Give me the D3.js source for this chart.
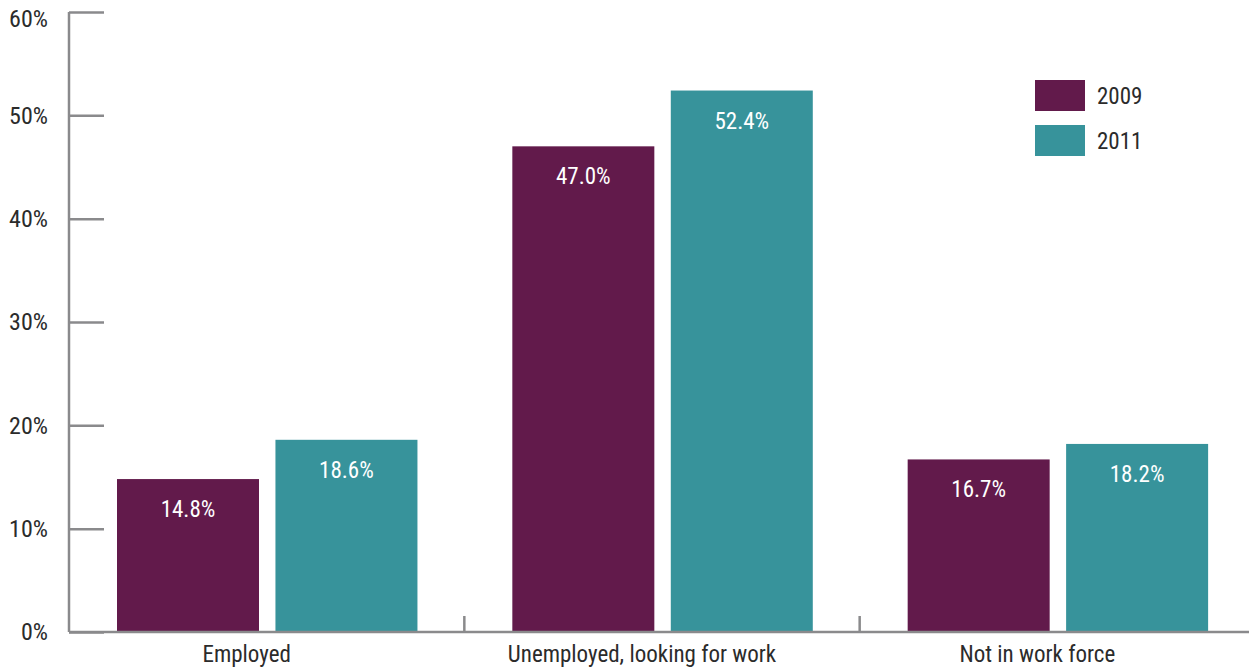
<!DOCTYPE html>
<html>
<head>
<meta charset="utf-8">
<script src="https://cdn.jsdelivr.net/npm/d3@7"></script>
<style>
html,body{margin:0;padding:0;background:#fff;}
svg{display:block;font-family:"Liberation Sans Narrow","Roboto Condensed","Liberation Sans",sans-serif;}
</style>
</head>
<body>
<div id="chart"></div>
<script>
(function(){

const categories = ["Employed","Unemployed, looking for work","Not in work force"];
const years = ["2009","2011"];
const values2009 = [14.8,47.0,16.7];
const values2011 = [18.6,52.4,18.2];
const yTicks = [0,10,20,30,40,50,60];

const width = 1249;
const height = 668;
const margin = {top:12,right:-6,bottom:36,left:69};
const fontStack = "'Liberation Sans Narrow','Roboto Condensed',sans-serif";

const colors = d3.scaleOrdinal().domain(years).range(["#621a4b","#37939b"]);

const data = categories.map((c,i)=>({cat:c,vals:[
{year:"2009",v:values2009[i]},
{year:"2011",v:values2011[i]}
]}));

const svg = d3.select("#chart")
.append("svg")
.attr("width",width)
.attr("height",height);

const x = d3.scaleBand()
.domain(categories)
.range([margin.left,width-margin.right])
.paddingInner(0)
.paddingOuter(0);

const xSub = d3.scaleBand()
.domain(years)
.range([48,48+300])
.paddingInner(16/300*2);

const y = d3.scaleLinear()
.domain([0,60])
.range([height-margin.bottom,margin.top]);

// y axis
const yAxis = svg.append("g")
.attr("transform",`translate(${margin.left},0)`)
.call(d3.axisRight(y).tickValues(yTicks).tickSize(35).tickFormat(d=>d+"%"));
yAxis.select(".domain").attr("stroke","#8a8a8c").attr("stroke-width",2.5)
.attr("d",`M0,${y(60)}V${y(0)}`);
yAxis.selectAll(".tick line").attr("stroke","#8a8a8c").attr("stroke-width",2.5);
yAxis.selectAll(".tick text")
.attr("x",-21)
.attr("dy",d=>d===60?"0.6em":"0.32em")
.attr("text-anchor","end")
.attr("fill","#2b2b2b")
.attr("font-size","24px")
.attr("font-family",fontStack);

// bars
const groups = svg.selectAll(".grp")
.data(data)
.enter()
.append("g")
.attr("transform",d=>`translate(${x(d.cat)},0)`);

groups.selectAll("rect")
.data(d=>d.vals)
.enter()
.append("rect")
.attr("x",d=>xSub(d.year))
.attr("y",d=>y(d.v))
.attr("width",142)
.attr("height",d=>y(0)-y(d.v))
.attr("fill",d=>colors(d.year));

groups.selectAll(".val")
.data(d=>d.vals)
.enter()
.append("text")
.attr("x",d=>xSub(d.year)+71)
.attr("y",d=>y(d.v)+38)
.attr("text-anchor","middle")
.attr("fill","#fff")
.attr("font-size","23px")
.text(d=>d.v.toFixed(1)+"%");

// x axis
const xAxis = svg.append("g")
.attr("transform",`translate(0,${y(0)})`)
.call(d3.axisBottom(x).tickSize(0));
xAxis.select(".domain").attr("stroke","#8a8a8c").attr("stroke-width",2.5)
.attr("d",`M${margin.left},0H${width}`);
xAxis.selectAll(".tick text")
.attr("y",14)
.attr("dx",-20)
.attr("fill","#2b2b2b")
.attr("font-size","23px")
.attr("font-family",fontStack);

// dividers between categories
svg.selectAll(".div")
.data(categories.slice(1))
.enter()
.append("line")
.attr("x1",d=>x(d))
.attr("x2",d=>x(d))
.attr("y1",y(0)-16)
.attr("y2",y(0))
.attr("stroke","#8a8a8c")
.attr("stroke-width",2.5);

// legend
const legend = svg.selectAll(".leg")
.data(years)
.enter()
.append("g")
.attr("transform",(d,i)=>`translate(1035,${80+i*45})`);

legend.append("rect")
.attr("width",50)
.attr("height",31)
.attr("fill",d=>colors(d));

legend.append("text")
.attr("x",62)
.attr("y",24)
.attr("fill","#2b2b2b")
.attr("font-size","23px")
.text(d=>d);

})();
</script>
</body>
</html>
